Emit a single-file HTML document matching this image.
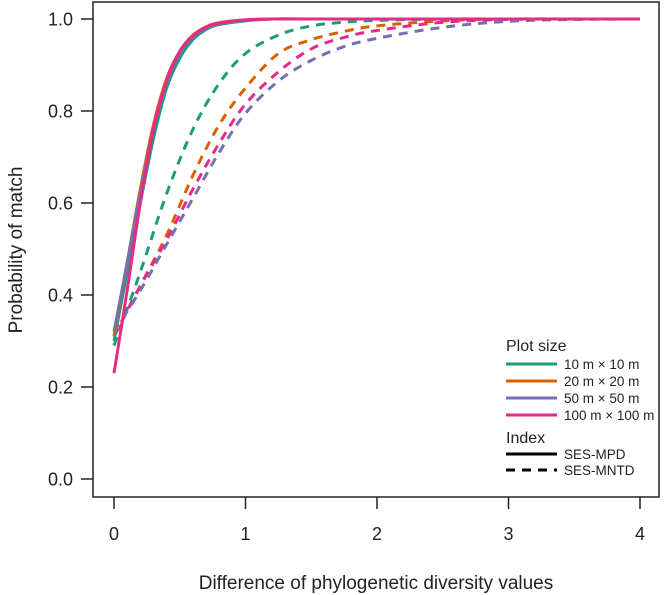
<!DOCTYPE html>
<html><head><meta charset="utf-8"><style>
html,body{margin:0;padding:0;background:#fff;}
svg{display:block;font-family:"Liberation Sans",Arial,sans-serif;}
</style></head><body>
<svg id="chart" width="664" height="595" viewBox="0 0 664 595">
<rect x="93" y="2" width="566" height="495" fill="none" stroke="#222" stroke-width="1.5"/>
<g id="axes"></g>
<g id="series"></g>
<text x="376" y="589" text-anchor="middle" font-size="19" fill="#222">Difference of phylogenetic diversity values</text>
<text transform="translate(22,250) rotate(-90)" text-anchor="middle" font-size="19" fill="#222">Probability of match</text>
<g font-size="13.5" fill="#222">
<text x="506" y="351" font-size="16">Plot size</text>
<line x1="506" y1="364" x2="557" y2="364" stroke="#1b9e77" stroke-width="3"/>
<text x="564" y="369">10 m × 10 m</text>
<line x1="506" y1="381" x2="557" y2="381" stroke="#d95f02" stroke-width="3"/>
<text x="564" y="386">20 m × 20 m</text>
<line x1="506" y1="398" x2="557" y2="398" stroke="#7570b3" stroke-width="3"/>
<text x="564" y="403">50 m × 50 m</text>
<line x1="506" y1="415" x2="557" y2="415" stroke="#e7298a" stroke-width="3"/>
<text x="564" y="420">100 m × 100 m</text>
<text x="506" y="443" font-size="16">Index</text>
<line x1="506" y1="454" x2="557" y2="454" stroke="#000" stroke-width="3"/>
<text x="564" y="459">SES-MPD</text>
<line x1="506" y1="470" x2="557" y2="470" stroke="#000" stroke-width="3" stroke-dasharray="9,7"/>
<text x="564" y="475">SES-MNTD</text>
</g>
</svg>
<script>
const xTicks = [0, 1, 2, 3, 4];
const yTicks = [0.0, 0.2, 0.4, 0.6, 0.8, 1.0];
const yTickLabels = ["0.0", "0.2", "0.4", "0.6", "0.8", "1.0"];
const solidX = [0, 0.1, 0.2, 0.3, 0.4, 0.5, 0.6, 0.7, 0.8, 1.0, 1.2, 1.5, 2, 4];
const mpd10 = [0.30, 0.45, 0.60, 0.74, 0.85, 0.915, 0.955, 0.977, 0.988, 0.996, 1, 1, 1, 1];
const mpd20 = [0.31, 0.47, 0.63, 0.77, 0.87, 0.93, 0.965, 0.983, 0.992, 0.998, 1, 1, 1, 1];
const mpd50 = [0.32, 0.47, 0.62, 0.76, 0.86, 0.925, 0.96, 0.98, 0.99, 0.997, 1, 1, 1, 1];
const mpd100 = [0.23, 0.41, 0.60, 0.76, 0.865, 0.93, 0.963, 0.982, 0.991, 0.998, 1, 1, 1, 1];
const dashX = [0, 0.2, 0.4, 0.6, 0.8, 1.0, 1.25, 1.5, 1.75, 2, 2.5, 3, 3.5, 4];
const mntd10 = [0.29, 0.45, 0.62, 0.76, 0.86, 0.925, 0.965, 0.985, 0.993, 0.997, 1, 1, 1, 1];
const mntd20 = [0.31, 0.42, 0.53, 0.66, 0.77, 0.85, 0.925, 0.955, 0.973, 0.985, 0.996, 1, 1, 1];
const mntd50 = [0.32, 0.41, 0.51, 0.61, 0.71, 0.795, 0.865, 0.91, 0.94, 0.958, 0.982, 0.995, 0.999, 1];
const mntd100 = [0.31, 0.42, 0.52, 0.63, 0.73, 0.815, 0.885, 0.935, 0.96, 0.975, 0.993, 0.999, 1, 1];

const NS = "http://www.w3.org/2000/svg";
function sx(v){ return 114 + v * 131.5; }
function sy(v){ return 479 - v * 460; }
function mk(tag, attrs, parent){ const e = document.createElementNS(NS, tag); for (const k in attrs) e.setAttribute(k, attrs[k]); parent.appendChild(e); return e; }
const axes = document.getElementById('axes');
xTicks.forEach(t => {
  const l = mk('line', {x1: sx(t), x2: sx(t), y1: 497, y2: 509, stroke: '#222', 'stroke-width': 1.5}, axes);
  
  
  const tx = mk('text', {x: sx(t), y: 540, 'text-anchor': 'middle', 'font-size': 18, fill: '#222'}, axes);
  tx.textContent = String(t);
  
  
});
yTicks.forEach((t, i) => {
  const l = mk('line', {x1: 81, x2: 93, y1: sy(t), y2: sy(t), stroke: '#222', 'stroke-width': 1.5}, axes);
  
  
  const tx = mk('text', {x: 73, y: sy(t) + 6.5, 'text-anchor': 'end', 'font-size': 18, fill: '#222'}, axes);
  tx.textContent = yTickLabels[i];
  
  
});
function pathOf(xs, ys){
  const p = xs.map((x, i) => [sx(x), sy(ys[i])]);
  let d = 'M' + p[0][0] + ',' + p[0][1];
  for (let i = 0; i < p.length - 1; i++){
    const p0 = p[Math.max(0, i-1)], p1 = p[i], p2 = p[i+1], p3 = p[Math.min(p.length-1, i+2)];
    const c1 = [p1[0] + (p2[0]-p0[0])/6, p1[1] + (p2[1]-p0[1])/6];
    const c2 = [p2[0] - (p3[0]-p1[0])/6, p2[1] - (p3[1]-p1[1])/6];
    d += ' C' + c1[0] + ',' + c1[1] + ' ' + c2[0] + ',' + c2[1] + ' ' + p2[0] + ',' + p2[1];
  }
  return d;
}
const sg = document.getElementById('series');
const defs = [
  [dashX, mntd10, '#1b9e77', true, 'line-mntd-10m'],
  [dashX, mntd20, '#d95f02', true, 'line-mntd-20m'],
  [dashX, mntd100, '#e7298a', true, 'line-mntd-100m'],
  [dashX, mntd50, '#7570b3', true, 'line-mntd-50m'],
  [solidX, mpd10, '#1b9e77', false, 'line-mpd-10m'],
  [solidX, mpd20, '#d95f02', false, 'line-mpd-20m'],
  [solidX, mpd50, '#7570b3', false, 'line-mpd-50m'],
  [solidX, mpd100, '#e7298a', false, 'line-mpd-100m']
];
defs.forEach(s => {
  const a = {d: pathOf(s[0], s[1]), fill: 'none', stroke: s[2], 'stroke-width': 3};
  if (s[3]) a['stroke-dasharray'] = '9,7';
  const e = mk('path', a, sg);
  
  
});
</script>
</body></html>
